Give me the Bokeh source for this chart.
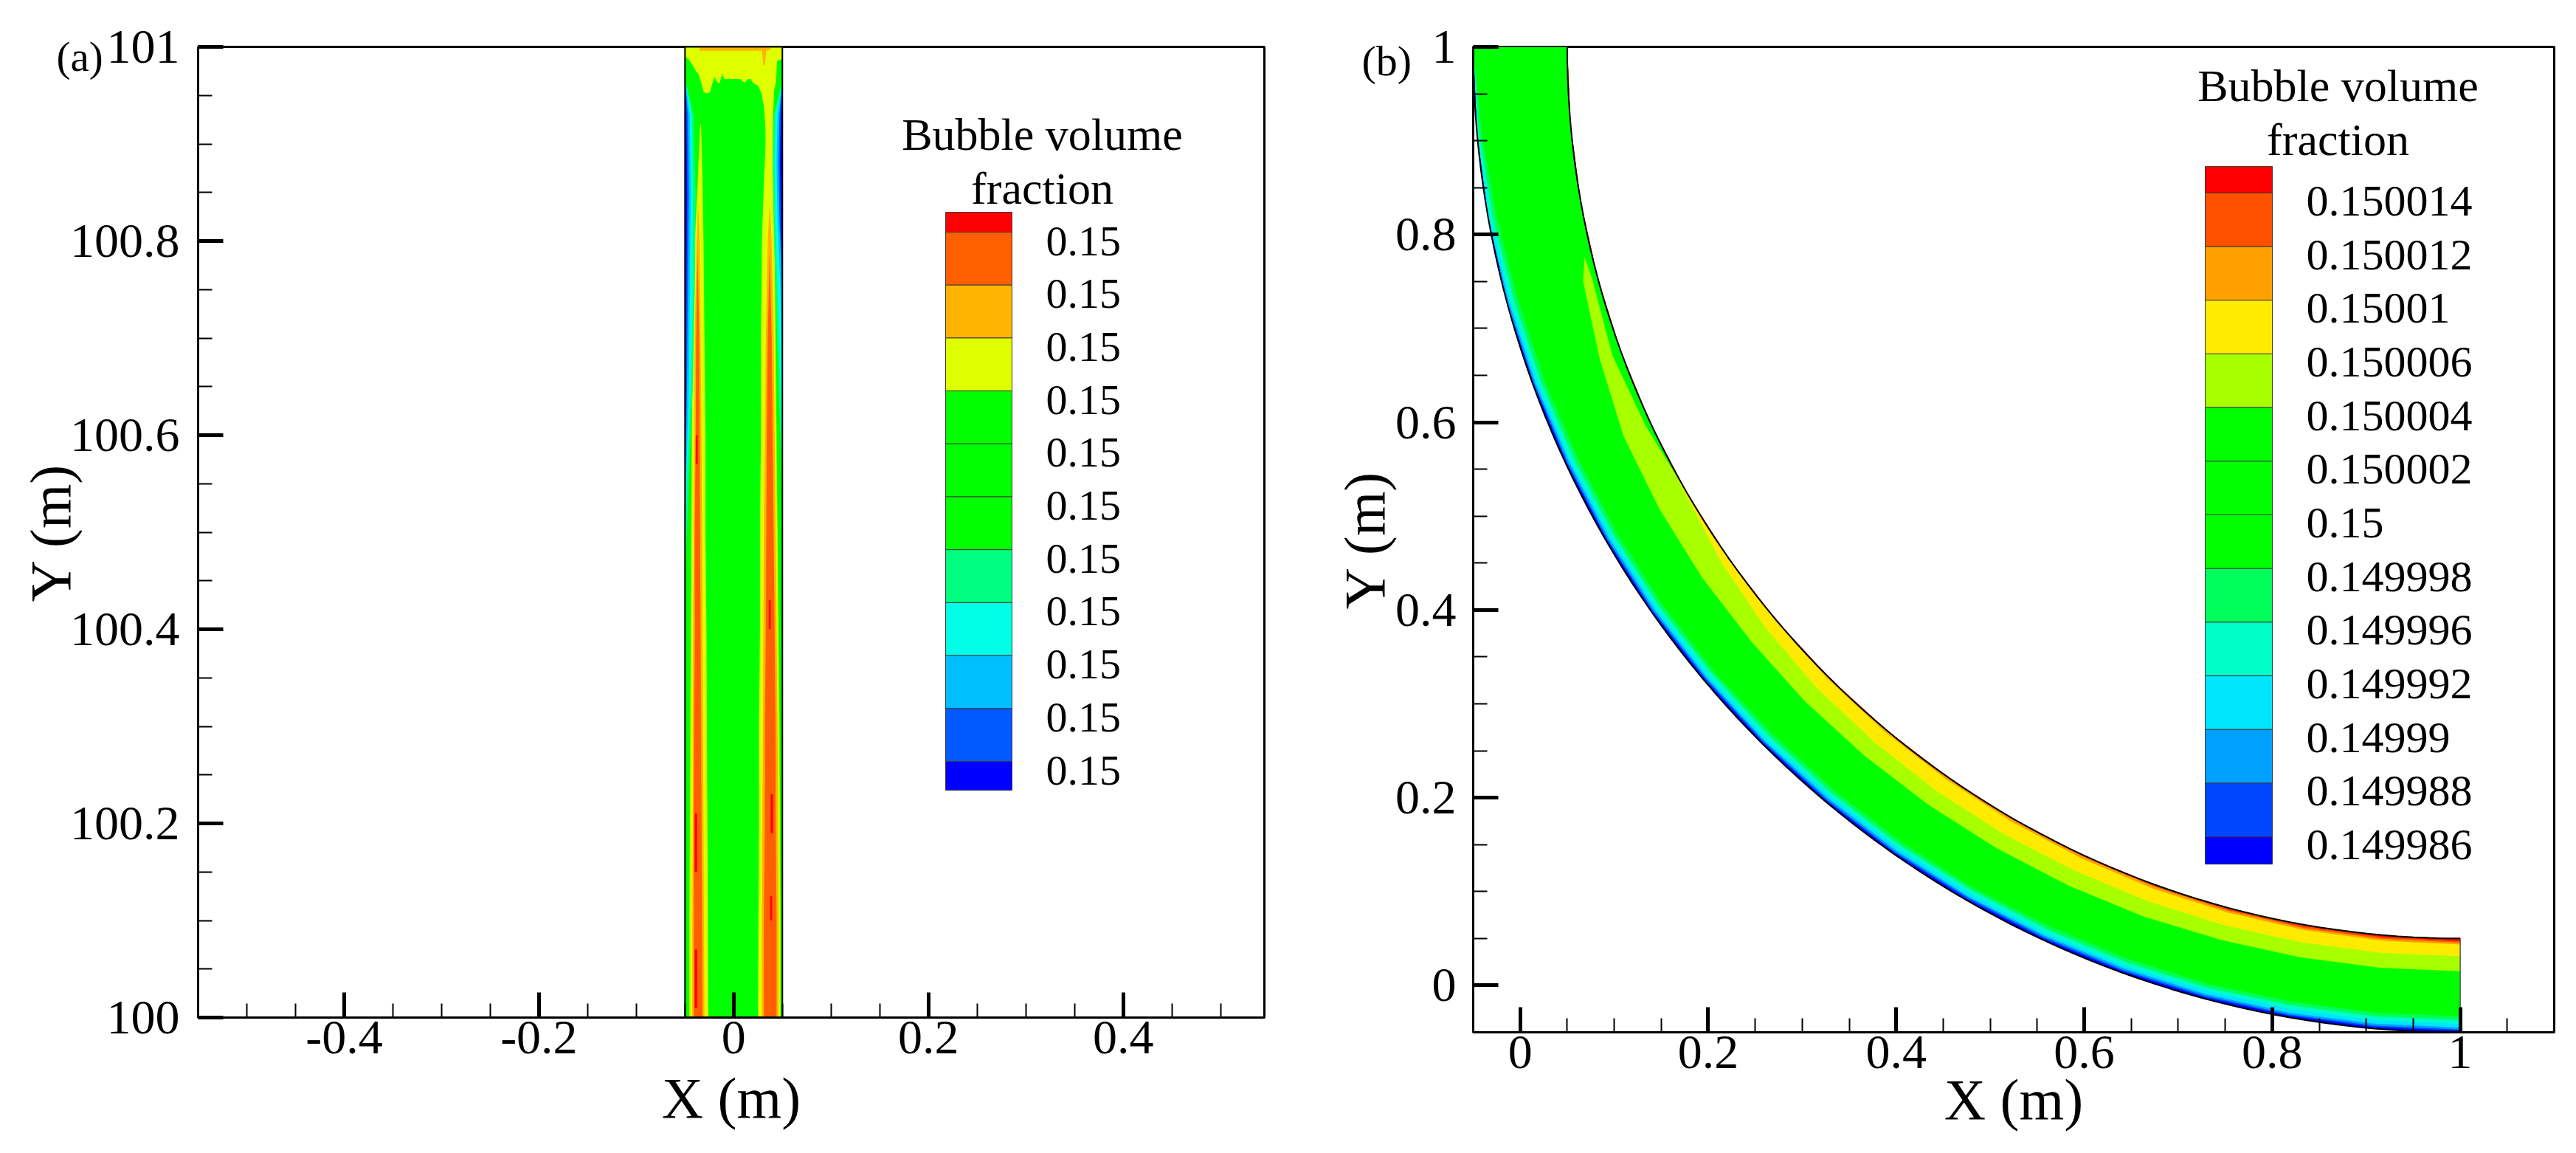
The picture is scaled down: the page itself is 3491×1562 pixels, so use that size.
import math
from bokeh.plotting import figure
from bokeh.layouts import row
from bokeh.models import Range1d, FixedTicker, CustomJSTickFormatter
from bokeh.core.properties import value
from bokeh.embed import file_html
from bokeh.resources import INLINE

SERIF = "Liberation Serif"

# ------------------------------------------------------------------
# (a) straight riser section, x in m, y in m
# ------------------------------------------------------------------
riser_x = [-0.05, 0.05]
riser_y = [100.0, 101.0]

legend_a_labels = ["0.15"] * 11
legend_a_colors = ["#FF0000", "#FF5F00", "#FFB400", "#DFFF00", "#00FF00", "#00FF00",
                   "#00FF00", "#00FF80", "#00FFE6", "#00BFFF", "#005AFF", "#0000FF"]

# near-wall stripes of higher fraction (left and right)
left_lime_y = [100.0, 100.1, 100.2, 100.3, 100.4, 100.5, 100.6, 100.7, 100.8, 100.86, 100.92]
left_lime_lo = [-0.0455, -0.0455, -0.045, -0.0445, -0.044, -0.0435, -0.043, -0.042, -0.040, -0.037, -0.0345]
left_lime_hi = [-0.026, -0.0265, -0.027, -0.0275, -0.028, -0.029, -0.029, -0.030, -0.031, -0.032, -0.0335]

left_amber_y = [100.0, 100.1, 100.2, 100.3, 100.4, 100.5, 100.6, 100.7, 100.8, 100.84]
left_amber_lo = [-0.0425, -0.0425, -0.042, -0.042, -0.0415, -0.041, -0.0405, -0.040, -0.038, -0.0365]
left_amber_hi = [-0.030, -0.0305, -0.031, -0.0315, -0.032, -0.0325, -0.033, -0.034, -0.035, -0.0365]

left_orange_y = [100.0, 100.1, 100.2, 100.3, 100.4, 100.5, 100.6, 100.7, 100.79]
left_orange_lo = [-0.041, -0.041, -0.041, -0.0405, -0.040, -0.040, -0.039, -0.0385, -0.037]
left_orange_hi = [-0.032, -0.0325, -0.033, -0.0335, -0.034, -0.0345, -0.035, -0.0355, -0.037]

right_lime_y = [100.0, 100.1, 100.2, 100.3, 100.4, 100.5, 100.6, 100.7, 100.8, 100.86, 100.905]
right_lime_lo = [0.025, 0.0255, 0.026, 0.026, 0.027, 0.027, 0.028, 0.028, 0.029, 0.031, 0.033]
right_lime_hi = [0.048, 0.048, 0.0475, 0.047, 0.046, 0.045, 0.044, 0.043, 0.042, 0.041, 0.040]

right_amber_y = [100.0, 100.1, 100.2, 100.3, 100.4, 100.5, 100.6, 100.7, 100.8, 100.84]
right_amber_lo = [0.029, 0.029, 0.0295, 0.030, 0.0305, 0.031, 0.032, 0.033, 0.035, 0.037]
right_amber_hi = [0.046, 0.046, 0.0455, 0.045, 0.044, 0.043, 0.042, 0.041, 0.039, 0.037]

right_orange_y = [100.0, 100.1, 100.2, 100.3, 100.4, 100.5, 100.6, 100.7, 100.79]
right_orange_lo = [0.031, 0.031, 0.032, 0.032, 0.033, 0.0335, 0.034, 0.035, 0.037]
right_orange_hi = [0.044, 0.044, 0.043, 0.043, 0.042, 0.041, 0.040, 0.039, 0.037]

red_streak_x0 = [-0.0400, -0.0400, -0.0390, 0.0375, 0.0380, 0.0360]
red_streak_x1 = [-0.0375, -0.0375, -0.0370, 0.0395, 0.0405, 0.0380]
red_streak_y0 = [100.01, 100.15, 100.57, 100.10, 100.19, 100.40]
red_streak_y1 = [100.07, 100.21, 100.60, 100.125, 100.23, 100.43]

# accumulation zone under the outlet: lower edge of the lime region
cap_edge_x = [-0.05, -0.046, -0.042, -0.038, -0.036, -0.033, -0.031, -0.028, -0.0245, -0.022,
              -0.0195, -0.017, -0.0145, -0.012, -0.0095, -0.0056, 0.002, 0.007, 0.011, 0.0147,
              0.017, 0.020, 0.025, 0.0286, 0.031, 0.0324, 0.033, 0.040, 0.0405, 0.0415,
              0.0435, 0.0445, 0.05]
cap_edge_y = [100.990, 100.987, 100.981, 100.974, 100.972, 100.962, 100.954, 100.952, 100.953, 100.962,
              100.969, 100.964, 100.962, 100.972, 100.967, 100.967, 100.967, 100.967, 100.963, 100.967,
              100.967, 100.963, 100.960, 100.952, 100.939, 100.921, 100.895, 100.895, 100.930, 100.955,
              100.964, 100.985, 100.988]
cap_orange_x = [-0.035, 0.029, 0.0305, 0.0320, 0.0337, 0.038, 0.038, -0.035]
cap_orange_y = [100.996, 100.996, 100.981, 100.981, 100.996, 100.997, 101.0, 101.0]

# depleted layers along the walls (thickness from the wall, m)
left_wall_y = [100.45, 100.55, 100.65, 100.75, 100.85, 100.93, 100.967]
left_wall_sg = [0.0, 0.004, 0.008, 0.010, 0.011, 0.009, 0.0]
left_wall_aq = [0.0, 0.002, 0.006, 0.008, 0.008, 0.007, 0.0]
left_wall_sky = [0.0, 0.001, 0.004, 0.005, 0.006, 0.005, 0.0]
left_wall_bl = [0.0, 0.0005, 0.002, 0.003, 0.004, 0.003, 0.0]
left_wall_db = [0.0, 0.0, 0.001, 0.0015, 0.0022, 0.0015, 0.0]

right_wall_y = [100.55, 100.65, 100.75, 100.82, 100.88, 100.93, 100.964]
right_wall_sg = [0.0, 0.004, 0.007, 0.009, 0.010, 0.009, 0.0]
right_wall_aq = [0.0, 0.002, 0.005, 0.007, 0.008, 0.007, 0.0]
right_wall_sky = [0.0, 0.0, 0.002, 0.005, 0.006, 0.005, 0.0]
right_wall_bl = [0.0, 0.0, 0.0, 0.003, 0.004, 0.003, 0.0]
right_wall_db = [0.0, 0.0, 0.0, 0.0015, 0.0025, 0.0015, 0.0]

xa_ticks = [-0.4, -0.2, 0, 0.2, 0.4]
ya_ticks = [100, 100.2, 100.4, 100.6, 100.8, 101]

# ------------------------------------------------------------------
# (b) 90 degree bend, centre of curvature (1, 1), pipe diameter 0.1 m
# ------------------------------------------------------------------
bend_center = (1.0, 1.0)
bend_radius = 1.0
half_width = 0.05

legend_b_labels = ["0.150014", "0.150012", "0.15001", "0.150006", "0.150004", "0.150002", "0.15",
                   "0.149998", "0.149996", "0.149992", "0.14999", "0.149988", "0.149986"]
legend_b_colors = ["#FF0000", "#FF5000", "#FFA000", "#FFEB00", "#A8FF00", "#00FF00", "#00FF00",
                   "#00FF00", "#00FF5A", "#00FFC8", "#00E6FF", "#00A0FF", "#0046FF", "#0000FF"]

bend_phi = [0, 5, 10, 15, 20, 25, 30, 35, 40, 45, 50, 55, 60, 65, 70, 75, 80, 85, 90]
# layers from the outer wall (depth, m)
outer_sg = [0.0, 0.005, 0.009, 0.012, 0.013, 0.014, 0.014, 0.014, 0.014, 0.015, 0.015, 0.015, 0.015, 0.016, 0.016, 0.016, 0.017, 0.017, 0.017]
outer_aq = [0.0, 0.002, 0.005, 0.008, 0.009, 0.010, 0.010, 0.010, 0.011, 0.011, 0.011, 0.011, 0.012, 0.012, 0.012, 0.012, 0.013, 0.013, 0.013]
outer_cy = [0.0, 0.0, 0.002, 0.004, 0.006, 0.006, 0.007, 0.007, 0.007, 0.007, 0.008, 0.008, 0.008, 0.008, 0.008, 0.009, 0.009, 0.009, 0.009]
outer_sky = [0.0, 0.0, 0.0, 0.002, 0.003, 0.004, 0.004, 0.004, 0.004, 0.004, 0.0045, 0.0045, 0.0045, 0.005, 0.005, 0.005, 0.005, 0.0052, 0.0052]
outer_bl = [0.0, 0.0, 0.0, 0.0, 0.0015, 0.002, 0.002, 0.002, 0.0025, 0.0025, 0.0025, 0.0025, 0.003, 0.003, 0.003, 0.003, 0.003, 0.003, 0.003]
outer_db = [0.0, 0.0, 0.0, 0.0, 0.0008, 0.001, 0.001, 0.001, 0.0012, 0.0012, 0.0012, 0.0013, 0.0013, 0.0014, 0.0014, 0.0015, 0.0015, 0.0015, 0.0015]
# layers from the inner wall (depth, m)
inner_yel = [0.0, 0.0, 0.0, 0.0, 0.0, 0.0, 0.002, 0.009, 0.014, 0.017, 0.018, 0.019, 0.019, 0.019, 0.019, 0.019, 0.019, 0.019, 0.019]
inner_org = [0.0, 0.0, 0.0, 0.0, 0.0, 0.0, 0.0, 0.001, 0.0015, 0.002, 0.0025, 0.003, 0.0035, 0.004, 0.0045, 0.005, 0.0055, 0.006, 0.0065]
inner_ored = [0.0, 0.0, 0.0, 0.0, 0.0, 0.0, 0.0, 0.0, 0.0, 0.0, 0.0, 0.0, 0.001, 0.0015, 0.002, 0.0028, 0.0035, 0.004, 0.0045]
inner_red = [0.0, 0.0, 0.0, 0.0, 0.0, 0.0, 0.0, 0.0, 0.0, 0.0, 0.0, 0.0, 0.0, 0.0, 0.0, 0.0008, 0.0013, 0.002, 0.0026]
# yellow-green tongue attached to the inner side
tongue_phi = [13.5, 15, 20, 25, 30, 35, 40, 45, 50, 55, 60, 65, 70, 75, 80, 85, 90]
tongue_out = [0.008, 0.016, 0.024, 0.032, 0.034, 0.035, 0.035, 0.036, 0.036, 0.036, 0.036, 0.036, 0.036, 0.035, 0.035, 0.035, 0.035]
tongue_in = [0.008, 0.006, 0.010, 0.006, 0.0, 0.0, 0.0, 0.0, 0.0, 0.0, 0.0, 0.0, 0.0, 0.0, 0.0, 0.0, 0.0]

xb_ticks = [0, 0.2, 0.4, 0.6, 0.8, 1]
yb_ticks = [0, 0.2, 0.4, 0.6, 0.8, 1]

# ------------------------------------------------------------------
# page layout (pixels)
# ------------------------------------------------------------------
A_W, A_H, A_LEFT, A_TOP, A_FW, A_FH = 1800, 1542, 268, 63, 1445, 1315
B_W, B_H, B_LEFT, B_TOP, B_FW, B_FH = 1691, 1562, 196, 62, 1465, 1336
B_X0 = A_W  # page x where the second figure starts

AX = (-0.55, 0.545)
AY = (100.0, 101.0)
BX = (-0.05, 1.10)
BY = (-0.05, 1.00)


def ax(px):
    return AX[0] + (px - A_LEFT) * (AX[1] - AX[0]) / A_FW


def ay(py):
    return AY[1] - (py - A_TOP) * (AY[1] - AY[0]) / A_FH


def bx(px):
    return BX[0] + (px - B_X0 - B_LEFT) * (BX[1] - BX[0]) / B_FW


def by(py):
    return BY[1] - (py - B_TOP) * (BY[1] - BY[0]) / B_FH


def make_fig(width, height, left, top, fw, fh, xr, yr):
    p = figure(width=width, height=height, x_range=Range1d(*xr), y_range=Range1d(*yr),
               output_backend="svg", toolbar_location=None,
               min_border_left=left, min_border_right=width - left - fw,
               min_border_top=top, min_border_bottom=height - top - fh)
    p.background_fill_color = "white"
    p.border_fill_color = "white"
    p.outline_line_color = "black"
    p.outline_line_width = 3
    p.xgrid.visible = False
    p.ygrid.visible = False
    return p


def style_axes(p, xt, yt, xminor, yminor):
    p.xaxis.ticker = FixedTicker(ticks=xt, minor_ticks=xminor)
    p.yaxis.ticker = FixedTicker(ticks=yt, minor_ticks=yminor)
    for axis in (p.xaxis[0], p.yaxis[0]):
        axis.formatter = CustomJSTickFormatter(code="return String(Math.round(tick * 1000) / 1000);")
        axis.axis_line_width = 3
        axis.axis_line_color = "black"
        axis.major_tick_in = 34
        axis.major_tick_out = 0
        axis.minor_tick_in = 19
        axis.minor_tick_out = 0
        axis.major_tick_line_width = 5
        axis.minor_tick_line_width = 2
        axis.major_tick_line_color = "black"
        axis.minor_tick_line_color = "black"
        axis.major_label_text_font = SERIF
        axis.major_label_text_font_size = "66px"
        axis.major_label_text_color = "black"
        axis.axis_label_text_font = SERIF
        axis.axis_label_text_font_size = "78px"
        axis.axis_label_text_font_style = "normal"
        axis.axis_label_text_color = "black"
    p.xaxis.axis_label = "X (m)"
    p.yaxis.axis_label = "Y (m)"
    p.xaxis.major_label_standoff = 5
    p.yaxis.major_label_standoff = 25


def panel_tag(p, text, size, offset, standoff):
    p.title.text = text
    p.title.align = "left"
    p.title.offset = offset
    p.title.standoff = standoff
    p.title.vertical_align = "bottom"
    p.title.text_font = SERIF
    p.title.text_font_size = f"{size}px"
    p.title.text_font_style = "normal"
    p.title.text_color = "black"


def band(y, lo, hi):
    return list(lo) + list(hi)[::-1], list(y) + list(y)[::-1]


def draw_legend(p, cx, cy, colors, labels, bar, top, first, step, bottom,
                label_x, label_dy, title_x, title_mid, title_size, label_size):
    n = len(colors)
    edges = [top] + [first + step * k for k in range(n - 1)] + [bottom]
    p.quad(left=cx(bar[0]), right=cx(bar[1]),
           top=[cy(e) for e in edges[:-1]], bottom=[cy(e) for e in edges[1:]],
           fill_color=colors, line_color="#3a3a3a", line_width=1)
    p.text(x=[cx(label_x)] * len(labels), y=[cy(e + label_dy) for e in edges[1:-1]], text=labels,
           text_font=value(SERIF), text_font_size=value(f"{label_size}px"),
           text_align="left", text_baseline="middle", text_color="black")
    p.text(x=[cx(title_x)] * 2, y=[cy(title_mid[0]), cy(title_mid[1])],
           text=["Bubble volume", "fraction"],
           text_font=value(SERIF), text_font_size=value(f"{title_size}px"),
           text_align="center", text_baseline="middle", text_color="black")


# ------------------------------------------------------------------
# panel (a)
# ------------------------------------------------------------------
pa = make_fig(A_W, A_H, A_LEFT, A_TOP, A_FW, A_FH, AX, AY)
GREEN_A, LIME_A, AMBER_A, ORANGE_A, RED_A = (legend_a_colors[4], legend_a_colors[3],
                                             legend_a_colors[2], legend_a_colors[1], legend_a_colors[0])

pa.quad(left=riser_x[0], right=riser_x[1], bottom=riser_y[0], top=riser_y[1],
        fill_color=GREEN_A, line_color=None)

for ys, lo, hi, col in [(left_lime_y, left_lime_lo, left_lime_hi, LIME_A),
                        (right_lime_y, right_lime_lo, right_lime_hi, LIME_A),
                        (left_amber_y, left_amber_lo, left_amber_hi, AMBER_A),
                        (right_amber_y, right_amber_lo, right_amber_hi, AMBER_A),
                        (left_orange_y, left_orange_lo, left_orange_hi, ORANGE_A),
                        (right_orange_y, right_orange_lo, right_orange_hi, ORANGE_A)]:
    xs, yv = band(ys, lo, hi)
    pa.patch(xs, yv, fill_color=col, line_color=None)

pa.quad(left=red_streak_x0, right=red_streak_x1, bottom=red_streak_y0, top=red_streak_y1,
        fill_color=RED_A, line_color=None)

pa.patch(cap_edge_x + [riser_x[1], riser_x[0]], cap_edge_y + [riser_y[1], riser_y[1]],
         fill_color=LIME_A, line_color=None)
pa.patch(cap_orange_x, cap_orange_y, fill_color=AMBER_A, line_color=None)

wall_cols = [legend_a_colors[7], legend_a_colors[8], legend_a_colors[9], legend_a_colors[10], legend_a_colors[11]]
for depth, col in zip([left_wall_sg, left_wall_aq, left_wall_sky, left_wall_bl, left_wall_db], wall_cols):
    xs, yv = band(left_wall_y, [riser_x[0]] * len(depth), [riser_x[0] + d for d in depth])
    pa.patch(xs, yv, fill_color=col, line_color=None)
for depth, col in zip([right_wall_sg, right_wall_aq, right_wall_sky, right_wall_bl, right_wall_db], wall_cols):
    xs, yv = band(right_wall_y, [riser_x[1] - d for d in depth], [riser_x[1]] * len(depth))
    pa.patch(xs, yv, fill_color=col, line_color=None)

pa.quad(left=riser_x[0], right=riser_x[1], bottom=riser_y[0], top=riser_y[1],
        fill_color=None, line_color="black", line_width=2)

xa_minor = [round(-0.55 + 0.05 * k, 3) for k in range(23)]
ya_minor = [round(100.0 + 0.05 * k, 3) for k in range(21)]
style_axes(pa, xa_ticks, ya_ticks, xa_minor, ya_minor)
pa.xaxis.axis_label_standoff = 14
pa.yaxis.axis_label_standoff = -20

draw_legend(pa, ax, ay, legend_a_colors, legend_a_labels, bar=(1281, 1371), top=287, first=314,
            step=71.7, bottom=1070, label_x=1417, label_dy=12, title_x=1412,
            title_mid=(181, 254), title_size=62, label_size=58)

panel_tag(pa, "(a)", 57, offset=76 - A_LEFT, standoff=-89)

# ------------------------------------------------------------------
# panel (b)
# ------------------------------------------------------------------
pb = make_fig(B_W, B_H, B_LEFT, B_TOP, B_FW, B_FH, BX, BY)


def bend_xy(phi_deg, s):
    a = math.radians(phi_deg)
    r = bend_radius + s
    return bend_center[0] - r * math.cos(a), bend_center[1] - r * math.sin(a)


def arc_samples(f0, f1):
    # wall geometry traced at one-degree steps
    n = int(round(f1 - f0))
    return [f0 + (f1 - f0) * k / n for k in range(n + 1)]


def wall_layer(phis, depths, wall_s, inward):
    wall = [bend_xy(f, wall_s) for f in arc_samples(phis[0], phis[-1])]
    edge = [bend_xy(f, wall_s + inward * d) for f, d in zip(phis, depths)]
    pts = wall + edge[::-1]
    return [q[0] for q in pts], [q[1] for q in pts]


def bend_band(phis, s_a, s_b):
    pts = [bend_xy(f, s) for f, s in zip(phis, s_a)] + \
          [bend_xy(f, s) for f, s in zip(phis, s_b)][::-1]
    return [q[0] for q in pts], [q[1] for q in pts]


full = arc_samples(0, 90)
inner_wall = [bend_xy(f, -half_width) for f in full]
outer_wall = [bend_xy(f, half_width) for f in full]
pipe = inner_wall + outer_wall[::-1]
pb.patch([q[0] for q in pipe], [q[1] for q in pipe], fill_color=legend_b_colors[5], line_color=None)

outer_cols = legend_b_colors[8:14]
for depth, col in zip([outer_sg, outer_aq, outer_cy, outer_sky, outer_bl, outer_db], outer_cols):
    xs, yv = wall_layer(bend_phi, depth, half_width, -1)
    pb.patch(xs, yv, fill_color=col, line_color=None)

xs, yv = bend_band(tongue_phi, [-half_width + d for d in tongue_out], [-half_width + d for d in tongue_in])
pb.patch(xs, yv, fill_color=legend_b_colors[4], line_color=None)

for depth, col in zip([inner_yel, inner_org, inner_ored, inner_red],
                      [legend_b_colors[3], legend_b_colors[2], legend_b_colors[1], legend_b_colors[0]]):
    xs, yv = wall_layer(bend_phi, depth, -half_width, 1)
    pb.patch(xs, yv, fill_color=col, line_color=None)

for wall in (inner_wall, outer_wall):
    pb.line([q[0] for q in wall], [q[1] for q in wall], line_color="black", line_width=2)
pb.line([bend_center[0], bend_center[0]], [-half_width, half_width], line_color="#555555", line_width=1.5)

xb_minor = [round(-0.05 + 0.05 * k, 3) for k in range(24)]
yb_minor = [round(-0.05 + 0.05 * k, 3) for k in range(22)]
style_axes(pb, xb_ticks, yb_ticks, xb_minor, yb_minor)
pb.yaxis.major_label_standoff = 23
pb.xaxis.axis_label_standoff = -4
pb.yaxis.axis_label_standoff = -5

draw_legend(pb, bx, by, legend_b_colors, legend_b_labels, bar=(2988, 3079), top=224, first=260,
            step=72.75, bottom=1170, label_x=3125, label_dy=11, title_x=3168,
            title_mid=(115, 188), title_size=62, label_size=60)

panel_tag(pb, "(b)", 58, offset=1845 - B_X0 - B_LEFT, standoff=-103)

layout = row(pa, pb)
with open("out.html", "w") as f:
    f.write(file_html(layout, INLINE))
